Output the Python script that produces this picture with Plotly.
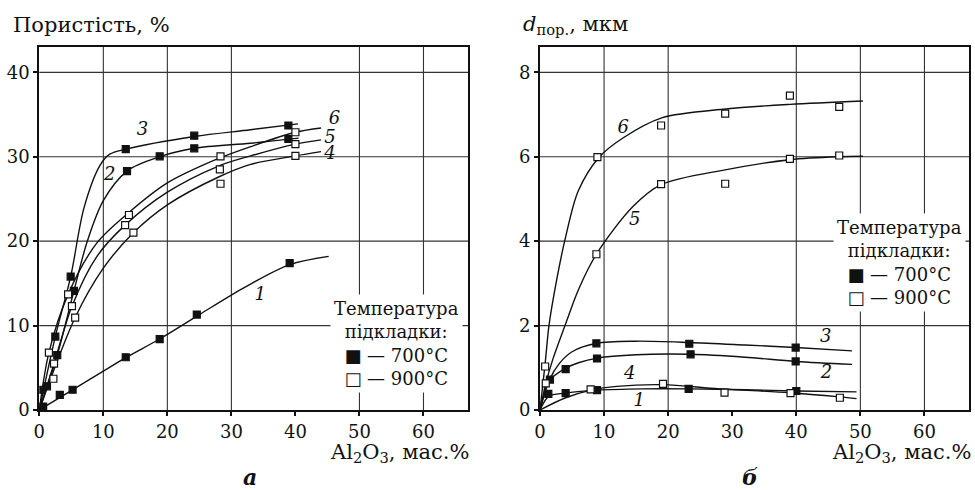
import plotly.graph_objects as go

# ---------------- Panel a: porosity, % ----------------
# fitted curves
a1_x = [0, 5, 10, 13.5, 19, 25, 32, 39, 45.2]
a1_y = [0, 2.3, 4.6, 6.2, 8.5, 11.3, 14.5, 17.2, 18.2]
a2_x = [0, 2.8, 5.4, 7.5, 10, 13.7, 18.8, 24.2, 33, 40.5]
a2_y = [0, 6.5, 14.1, 20, 24.8, 28.3, 30.0, 31.0, 31.6, 32.2]
a3_x = [0, 2.5, 4.9, 7, 9.5, 11, 13.5, 24.2, 33, 40.4]
a3_y = [0, 8.7, 15.8, 24, 29, 30.3, 30.9, 32.4, 33.2, 33.9]
a4_x = [0, 5.6, 10, 14.7, 20, 28, 33, 40, 44]
a4_y = [0, 10.95, 16.8, 21.0, 24.3, 27.6, 29.1, 30.1, 30.6]
a5_x = [0, 2.3, 5.1, 9, 13.4, 20, 28, 33, 40, 44]
a5_y = [0, 5.5, 12.3, 18.2, 21.9, 25.8, 28.9, 30.1, 31.5, 32.0]
a6_x = [0, 1.5, 4.5, 9, 14, 20, 28, 33, 40, 44]
a6_y = [0, 6.8, 13.7, 19.8, 23.4, 26.9, 29.8, 31.2, 32.9, 33.4]

# measured points
a_700_x = [0.3, 0.6, 1.2, 2.5, 2.8, 3.2, 4.9, 5.2, 5.4, 13.5, 13.7, 13.5, 18.8, 18.8, 24.2, 24.2, 24.6, 38.9, 38.9, 39.1]
a_700_y = [2.4, 0.4, 2.8, 8.7, 6.5, 1.8, 15.8, 2.4, 14.1, 30.9, 28.3, 6.25, 30.05, 8.4, 32.5, 31.0, 11.3, 33.7, 32.1, 17.4]
a_900_x = [1.5, 2.2, 2.3, 4.5, 5.1, 5.6, 13.4, 14.0, 14.7, 28.2, 28.3, 28.3, 40, 40, 40]
a_900_y = [6.8, 3.7, 5.5, 13.7, 12.3, 10.95, 21.9, 23.1, 21.0, 28.5, 30.05, 26.8, 32.9, 31.5, 30.1]

a_lab_txt = ["1", "2", "3", "4", "5", "6"]
a_lab_x = [34.5, 11.0, 16.1, 45.4, 45.4, 46.1]
a_lab_y = [13.6, 27.8, 33.1, 30.3, 32.2, 34.4]

# ---------------- Panel б: pore size, мкм ----------------
b1_x = [0, 1.4, 4, 9, 16, 23.2, 32, 40, 49.4]
b1_y = [0, 0.33, 0.40, 0.47, 0.50, 0.50, 0.48, 0.45, 0.43]
b2_x = [0, 1.5, 4, 6, 8.9, 15, 23.5, 32, 39.9, 48.7]
b2_y = [0, 0.70, 0.99, 1.12, 1.23, 1.31, 1.32, 1.25, 1.15, 1.08]
b3_x = [0, 1.5, 3, 5, 8.8, 15, 23.3, 32, 39.9, 48.7]
b3_y = [0, 0.72, 1.10, 1.38, 1.58, 1.63, 1.60, 1.54, 1.48, 1.40]
b4_x = [0, 4, 8, 12, 19.2, 28, 39, 46.8, 49.4]
b4_y = [0, 0.29, 0.47, 0.56, 0.60, 0.50, 0.41, 0.31, 0.27]
b5_x = [0, 0.9, 2, 3.9, 6, 8.8, 14.5, 18.9, 28.9, 39, 46.7, 50.4]
b5_y = [0, 0.63, 1.2, 2.0, 2.85, 3.69, 4.82, 5.34, 5.69, 5.93, 6.0, 6.01]
b6_x = [0, 0.8, 1.4, 2.5, 4, 6, 9.3, 13, 19, 29, 39, 50.4]
b6_y = [0, 1.1, 2.0, 3.0, 4.1, 5.2, 6.0, 6.45, 6.92, 7.13, 7.24, 7.32]

b_700_x = [1.3, 1.55, 4.0, 4.0, 8.8, 8.9, 8.9, 23.2, 23.3, 23.5, 39.9, 39.9, 40.0]
b_700_y = [0.38, 0.72, 0.97, 0.40, 1.58, 1.22, 0.47, 0.50, 1.57, 1.32, 1.48, 1.15, 0.45]
b_900_x = [0.8, 0.9, 7.9, 8.8, 8.96, 18.9, 18.9, 19.2, 28.8, 28.9, 28.9, 39.0, 39.0, 39.1, 46.7, 46.7, 46.8]
b_900_y = [1.03, 0.63, 0.49, 3.69, 5.99, 6.74, 5.35, 0.62, 0.41, 7.02, 5.36, 7.45, 5.95, 0.40, 7.18, 6.03, 0.29]

b_lab_txt = ["1", "2", "3", "4", "5", "6"]
b_lab_x = [15.5, 44.7, 44.6, 14.0, 14.8, 13.0]
b_lab_y = [0.20, 0.87, 1.72, 0.83, 4.5, 6.68]

x_ticks = [0, 10, 20, 30, 40, 50, 60]
a_y_ticks = [0, 10, 20, 30, 40]
b_y_ticks = [0, 2, 4, 6, 8]
a_x_grid = [10, 20, 30, 50, 60]
b_x_grid = [10, 20, 40, 50, 60]

FONT = "'DejaVu Serif', 'Liberation Serif', serif"
INK = "#111111"

fig = go.Figure()

def add_curve(xs, ys, xa, ya):
    fig.add_trace(go.Scatter(x=xs, y=ys, mode="lines", xaxis=xa, yaxis=ya,
                             line=dict(color=INK, width=1.4, shape="spline", smoothing=0.9),
                             hoverinfo="skip", showlegend=False))

for xs, ys in [(a1_x, a1_y), (a2_x, a2_y), (a3_x, a3_y), (a4_x, a4_y), (a5_x, a5_y), (a6_x, a6_y)]:
    add_curve(xs, ys, "x", "y")
for xs, ys in [(b1_x, b1_y), (b2_x, b2_y), (b3_x, b3_y), (b4_x, b4_y), (b5_x, b5_y), (b6_x, b6_y)]:
    add_curve(xs, ys, "x2", "y2")

def add_pts(xs, ys, xa, ya, filled):
    fig.add_trace(go.Scatter(x=xs, y=ys, mode="markers", xaxis=xa, yaxis=ya,
                             marker=dict(symbol="square", size=7,
                                         color=INK if filled else "white",
                                         line=dict(color=INK, width=1.2)),
                             showlegend=False))

add_pts(a_700_x, a_700_y, "x", "y", True)
add_pts(a_900_x, a_900_y, "x", "y", False)
add_pts(b_700_x, b_700_y, "x2", "y2", True)
add_pts(b_900_x, b_900_y, "x2", "y2", False)

# curve number labels
fig.add_trace(go.Scatter(x=a_lab_x, y=a_lab_y, text=a_lab_txt, mode="text", xaxis="x", yaxis="y",
                         textfont=dict(family=FONT, size=18, color=INK, style="italic"), showlegend=False))
fig.add_trace(go.Scatter(x=b_lab_x, y=b_lab_y, text=b_lab_txt, mode="text", xaxis="x2", yaxis="y2",
                         textfont=dict(family=FONT, size=18, color=INK, style="italic"), showlegend=False))

shapes = []
for v in a_x_grid:
    shapes.append(dict(type="line", xref="x", yref="y domain", x0=v, x1=v, y0=0, y1=1,
                       line=dict(color="#333", width=1.1), layer="below"))
for v in a_y_ticks[1:]:
    shapes.append(dict(type="line", xref="x domain", yref="y", x0=0, x1=1, y0=v, y1=v,
                       line=dict(color="#333", width=1.1), layer="below"))
for v in b_x_grid:
    shapes.append(dict(type="line", xref="x2", yref="y2 domain", x0=v, x1=v, y0=0, y1=1,
                       line=dict(color="#333", width=1.1), layer="below"))
for v in b_y_ticks[1:]:
    shapes.append(dict(type="line", xref="x2 domain", yref="y2", x0=0, x1=1, y0=v, y1=v,
                       line=dict(color="#333", width=1.1), layer="below"))

W, H = 975, 490
def px(x):
    return x / W
def py(y):
    return 1 - y / H

ax_common = dict(showgrid=False, zeroline=False, showline=True, mirror=True, automargin=False,
                 linecolor=INK, linewidth=2, ticks="outside", ticklen=4, tickwidth=1.5,
                 tickcolor=INK, tickfont=dict(family=FONT, size=18, color=INK))

y_dom = [py(410), py(47)]
fig.update_layout(
    width=W, height=H, margin=dict(l=0, r=0, t=0, b=0, autoexpand=False),
    paper_bgcolor="white", plot_bgcolor="white", showlegend=False,
    xaxis=dict(domain=[px(39.3), px(468.3)], range=[0, 67], tickvals=x_ticks, anchor="y", **ax_common),
    yaxis=dict(domain=y_dom, range=[0, 43], tickvals=a_y_ticks, anchor="x", **ax_common),
    xaxis2=dict(domain=[px(540), px(969.3)], range=[0, 67], tickvals=x_ticks, anchor="y2", **ax_common),
    yaxis2=dict(domain=y_dom, range=[0, 8.6], tickvals=b_y_ticks, anchor="x2", **ax_common),
    shapes=shapes,
)

legend_txt = "Температура<br>підкладки:<br>■ — 700°C<br>□ — 900°C"
ann = [
    dict(x=px(11), y=py(25), xref="paper", yref="paper", xanchor="left", yanchor="middle",
         text="Пористість, %", showarrow=False, font=dict(family=FONT, size=21, color=INK)),
    dict(x=px(521), y=py(25), xref="paper", yref="paper", xanchor="left", yanchor="middle",
         text="<i>d</i><sub>пор.</sub>, мкм", showarrow=False, font=dict(family=FONT, size=21, color=INK)),
    dict(x=px(471), y=py(453), xref="paper", yref="paper", xanchor="right", yanchor="middle",
         text="Al<sub>2</sub>O<sub>3</sub>, мас.%", showarrow=False, font=dict(family=FONT, size=21, color=INK)),
    dict(x=px(973), y=py(453), xref="paper", yref="paper", xanchor="right", yanchor="middle",
         text="Al<sub>2</sub>O<sub>3</sub>, мас.%", showarrow=False, font=dict(family=FONT, size=21, color=INK)),
    dict(x=px(250), y=py(477), xref="paper", yref="paper", xanchor="center", yanchor="middle",
         text="<b><i>а</i></b>", showarrow=False, font=dict(family=FONT, size=22, color=INK)),
    dict(x=px(750), y=py(477), xref="paper", yref="paper", xanchor="center", yanchor="middle",
         text="<b><i>б</i></b>", showarrow=False, font=dict(family=FONT, size=22, color=INK)),
    dict(x=px(396), y=py(343), xref="paper", yref="paper", xanchor="center", yanchor="middle",
         text=legend_txt, showarrow=False, align="center", bgcolor="white", borderpad=3,
         font=dict(family=FONT, size=18, color=INK)),
    dict(x=px(899), y=py(262), xref="paper", yref="paper", xanchor="center", yanchor="middle",
         text=legend_txt, showarrow=False, align="center", bgcolor="white", borderpad=3,
         font=dict(family=FONT, size=18, color=INK)),
]
fig.update_layout(annotations=ann)

fig.write_html("out.html", config={"displayModeBar": False},
               post_script="document.body.style.margin='0';document.body.style.padding='0';")
